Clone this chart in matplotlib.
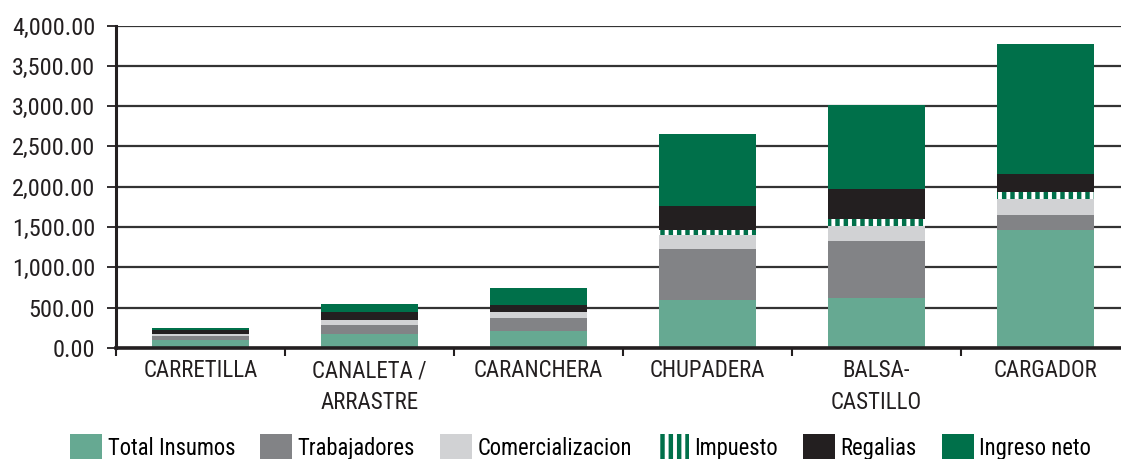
import matplotlib
matplotlib.use("Agg")
import matplotlib.pyplot as plt
from matplotlib.patches import Patch
from matplotlib.ticker import FixedLocator, FuncFormatter

plt.rcParams['font.family'] = ['Roboto Condensed', 'Liberation Sans Narrow', 'DejaVu Sans']
plt.rcParams['hatch.linewidth'] = 3.2

categories = ["CARRETILLA", "CANALETA /\nARRASTRE", "CARANCHERA", "CHUPADERA", "BALSA-\nCASTILLO", "CARGADOR"]
series_names = ["Total Insumos", "Trabajadores", "Comercializacion", "Impuesto", "Regalias", "Ingreso neto"]
insumos = [96, 171, 212, 595, 620, 1465]
trabajadores = [50, 112, 162, 633, 707, 186]
comercializacion = [25, 62, 75, 173, 186, 199]
impuesto = [0, 0, 0, 62, 82, 87]
regalias = [50, 100, 87, 298, 377, 223]
ingreso_neto = [24, 100, 212, 894, 1043, 1612]
y_ticks = [0, 500, 1000, 1500, 2000, 2500, 3000, 3500, 4000]

GREEN = "#00704A"
DARK = "#231F20"
styles = [
    dict(color="#66A992"),
    dict(color="#828386"),
    dict(color="#D1D2D4"),
    dict(facecolor="white", edgecolor=GREEN, hatch="||", linewidth=0),
    dict(color=DARK),
    dict(color=GREEN),
]

fig = plt.figure(figsize=(11.21, 4.59), dpi=100)
ax = fig.add_axes([116 / 1121, (459 - 348) / 459, (1130 - 116) / 1121, (348 - 25.5) / 459])

series = [insumos, trabajadores, comercializacion, impuesto, regalias, ingreso_neto]
x = list(range(len(categories)))
bottom = [0] * len(categories)
handles = []
for name, vals, st in zip(series_names, series, styles):
    kw = dict(st)
    if "color" in kw:
        kw["linewidth"] = 0
    ax.bar(x, vals, width=0.57, bottom=bottom, zorder=3, **kw)
    handles.append(Patch(label=name, **kw))
    bottom = [b + v for b, v in zip(bottom, vals)]

ax.set_xlim(-0.5, len(categories) - 0.5)
ax.set_ylim(0, 4000)
ax.yaxis.set_major_locator(FixedLocator(y_ticks))
ax.yaxis.set_major_formatter(FuncFormatter(lambda v, p: f"{v:,.2f}"))
ax.set_xticks(x)
ax.set_xticklabels(categories, fontsize=16.5, color=DARK, linespacing=1.5)
ax.set_xticks([i - 0.5 for i in range(len(categories) + 1)], minor=True)
ax.tick_params(axis="x", which="major", length=0, pad=8)
ax.tick_params(axis="x", which="minor", length=6, width=1.5, color=DARK)
ax.tick_params(axis="y", length=6.5, width=1.3, color=DARK, labelsize=17.5, pad=8.5, labelcolor=DARK)

ax.set_axisbelow(True)
ax.yaxis.grid(True, color="#333333", linewidth=1.6, zorder=0)
for s in ["top", "right"]:
    ax.spines[s].set_visible(False)
ax.spines["left"].set_linewidth(2.2)
ax.spines["left"].set_color(DARK)
ax.spines["bottom"].set_linewidth(2.6)
ax.spines["bottom"].set_color(DARK)
ax.spines["bottom"].set_zorder(4)

fig.legend(handles=handles, loc="center", bbox_to_anchor=(0.518, (459 - 447) / 459),
           ncol=6, frameon=False, fontsize=16.3, handlelength=1.41, handleheight=1.41,
           handletextpad=0.25, columnspacing=1.1, borderpad=0, borderaxespad=0)

fig.savefig("out.png", dpi=100)
